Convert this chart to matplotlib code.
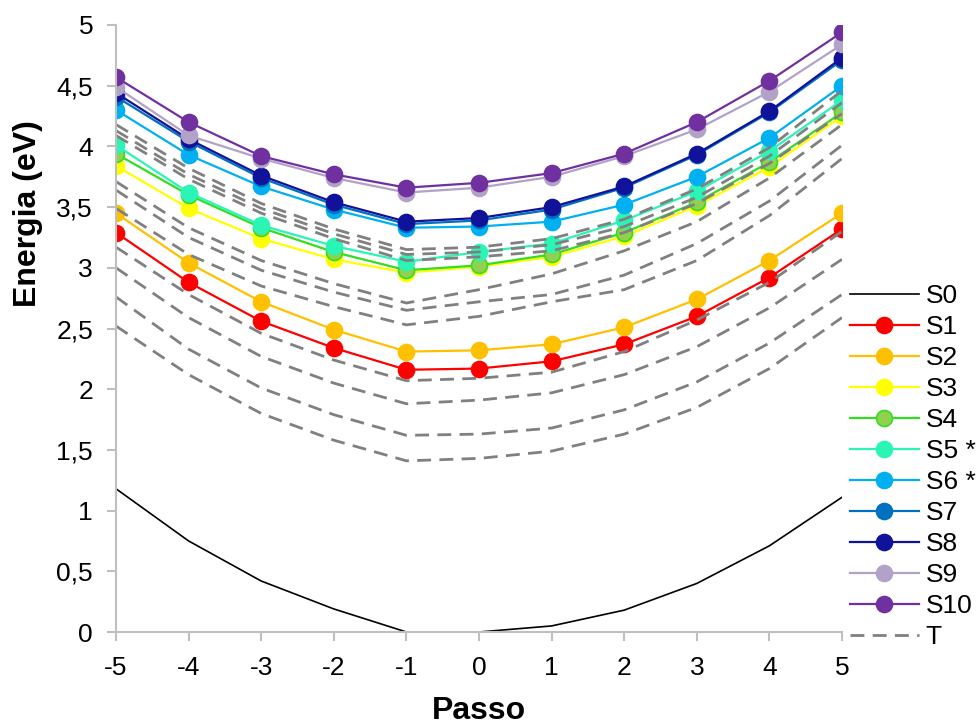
import matplotlib.pyplot as plt
import numpy as np

plt.rcParams["font.family"] = ["Liberation Sans", "DejaVu Sans"]
plt.rcParams["font.size"] = 19

passo = [-5, -4, -3, -2, -1, 0, 1, 2, 3, 4, 5]

# singlet energies (eV)
s0 = [1.18, 0.75, 0.42, 0.19, 0.00, 0.00, 0.05, 0.18, 0.40, 0.71, 1.11]
s1 = [3.29, 2.88, 2.56, 2.34, 2.16, 2.17, 2.23, 2.37, 2.60, 2.92, 3.32]
s2 = [3.45, 3.04, 2.72, 2.49, 2.31, 2.32, 2.37, 2.51, 2.74, 3.06, 3.45]
s3 = [3.84, 3.49, 3.24, 3.07, 2.96, 3.01, 3.09, 3.26, 3.51, 3.83, 4.25]
s4 = [3.94, 3.60, 3.33, 3.13, 2.98, 3.02, 3.11, 3.29, 3.54, 3.87, 4.28]
s5 = [4.01, 3.62, 3.35, 3.18, 3.05, 3.13, 3.20, 3.39, 3.63, 3.96, 4.38]
s6 = [4.30, 3.93, 3.67, 3.48, 3.33, 3.34, 3.38, 3.52, 3.75, 4.07, 4.50]
s7 = [4.41, 4.04, 3.74, 3.52, 3.36, 3.39, 3.48, 3.66, 3.93, 4.28, 4.71]
s8 = [4.44, 4.06, 3.76, 3.54, 3.38, 3.41, 3.50, 3.67, 3.94, 4.29, 4.73]
s9 = [4.49, 4.09, 3.90, 3.74, 3.62, 3.66, 3.75, 3.92, 4.14, 4.45, 4.84]
s10 = [4.57, 4.20, 3.92, 3.77, 3.66, 3.70, 3.78, 3.94, 4.20, 4.54, 4.94]

# triplet energies (eV)
t1 = [2.52, 2.12, 1.80, 1.58, 1.41, 1.43, 1.49, 1.63, 1.85, 2.17, 2.59]
t2 = [2.76, 2.33, 2.01, 1.79, 1.62, 1.63, 1.68, 1.83, 2.06, 2.38, 2.78]
t3 = [3.00, 2.59, 2.27, 2.05, 1.88, 1.91, 1.97, 2.12, 2.35, 2.67, 3.07]
t4 = [3.17, 2.78, 2.46, 2.24, 2.07, 2.09, 2.14, 2.31, 2.57, 2.88, 3.30]
t5 = [3.49, 3.11, 2.85, 2.68, 2.53, 2.60, 2.72, 2.82, 3.06, 3.43, 3.90]
t6 = [3.64, 3.25, 2.98, 2.80, 2.65, 2.72, 2.78, 2.94, 3.20, 3.55, 4.01]
t7 = [3.71, 3.33, 3.06, 2.87, 2.71, 2.82, 2.95, 3.14, 3.38, 3.74, 4.18]
t8 = [4.09, 3.73, 3.45, 3.24, 3.06, 3.09, 3.14, 3.29, 3.53, 3.86, 4.27]
t9 = [4.13, 3.77, 3.49, 3.28, 3.11, 3.13, 3.19, 3.34, 3.58, 3.92, 4.36]
t10 = [4.18, 3.82, 3.53, 3.32, 3.15, 3.17, 3.24, 3.40, 3.65, 3.99, 4.46]

yticks = [0, 0.5, 1, 1.5, 2, 2.5, 3, 3.5, 4, 4.5, 5]
ytick_labels = ["0", "0,5", "1", "1,5", "2", "2,5", "3", "3,5", "4", "4,5", "5"]

singlets = [
    (s1, "S1", "#ff0000", "#ff0000", "#ff0000"),
    (s2, "S2", "#ffc000", "#ffc000", "#ffc000"),
    (s3, "S3", "#ffff00", "#ffff00", "#ffff00"),
    (s4, "S4", "#33dd22", "#92d050", "#33dd22"),
    (s5, "S5 *", "#2af5b7", "#2af5b7", "#2af5b7"),
    (s6, "S6 *", "#00b0f0", "#00b0f0", "#00b0f0"),
    (s7, "S7", "#0070c0", "#0070c0", "#0070c0"),
    (s8, "S8", "#10129a", "#10129a", "#10129a"),
    (s9, "S9", "#b3a2c7", "#b3a2c7", "#b3a2c7"),
    (s10, "S10", "#7030a0", "#7030a0", "#7030a0"),
]

fig = plt.figure(figsize=(9.8, 7.26), dpi=100)
ax = fig.add_axes([116/980, 1-632/726, (842-116)/980, (632-25)/726])

ax.plot(passo, s0, color="black", lw=1.2, label="S0")
for vals, lab, lc, fc, ec in singlets:
    ax.plot(passo, vals, color=lc, lw=1.6, marker="o", ms=11.5,
            markerfacecolor=fc, markeredgecolor=ec, markeredgewidth=1.2,
            label=lab)

for i, t in enumerate([t1, t2, t3, t4, t5, t6, t7, t8, t9, t10]):
    ax.plot(passo, t, color="#808080", lw=2, dashes=(5, 3),
            label="T" if i == 0 else "_nolegend_")

ax.set_xlim(-5, 5)
ax.set_ylim(0, 5)
ax.set_xticks(passo)
ax.set_xticklabels([str(p) for p in passo])
ax.set_yticks(yticks)
ax.set_yticklabels(ytick_labels)

for side in ["top", "right"]:
    ax.spines[side].set_visible(False)
for side in ["left", "bottom"]:
    ax.spines[side].set_color("#bfbfbf")
    ax.spines[side].set_linewidth(1.5)
ax.tick_params(colors="#bfbfbf", width=1.5, length=6.5, labelcolor="black",
               labelsize=19)
ax.tick_params(axis="x", pad=11)
ax.tick_params(axis="y", pad=10)

ax.set_ylabel("Energia (eV)", fontsize=23, fontweight="bold")
ax.yaxis.set_label_coords(-0.1, 0.69)
ax.set_xlabel("Passo", fontsize=23, fontweight="bold")
ax.xaxis.set_label_coords(0.5, -0.105)

leg = ax.legend(loc="upper left", bbox_to_anchor=(850/980, 1-284/726),
                bbox_transform=fig.transFigure, frameon=False,
                borderpad=0, borderaxespad=0, handlelength=2.6,
                handletextpad=0.27, labelspacing=0.265, fontsize=19)

fig.savefig("out.png", dpi=100)
